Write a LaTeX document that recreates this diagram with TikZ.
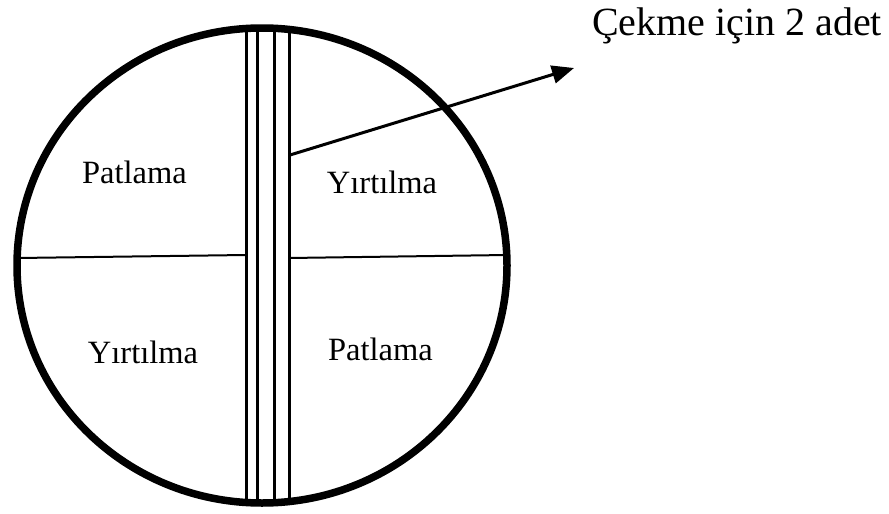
\documentclass[tikz,border=0pt]{standalone}
\usepackage{fontspec}
\setmainfont{Liberation Serif}
\usetikzlibrary{arrows.meta}
\begin{document}
\begin{tikzpicture}[x=1pt,y=-1pt,
  lbl/.style={anchor=base,inner sep=0pt,font=\fontsize{32.5}{36}\selectfont},
  rod/.style={line width=3pt},
  split/.style={line width=2pt},
  rim/.style={line width=7.5pt},
  pointer/.style={line width=3pt,-{Triangle[length=22pt,width=18pt]}}]
\useasboundingbox (0,0) rectangle (889,514);
% rods
\foreach \x in {246,257.3,274,289}{\draw[rod] (\x,28) -- (\x,503);}
% dividing lines
\draw[split] (18,258) -- (246,255);
\draw[split] (289,258) -- (507,255);
% rim
\draw[rim] (262,265.5) ellipse [x radius=245, y radius=237.5];
% labels
\node[lbl] (p1) at (134.5,183) {Patlama};
\node[lbl] (y1) at (382,193) {Yırtılma};
\node[lbl] (y2) at (143,363) {Yırtılma};
\node[lbl] (p2) at (380.5,360) {Patlama};
\node[lbl,font=\fontsize{40}{44}\selectfont] (t) at (737,35) {Çekme için 2 adet};
% arrow
\coordinate (s) at (290,155);
\coordinate (e) at (574,68);
\draw[pointer] (s) -- (e);
\end{tikzpicture}
\end{document}
